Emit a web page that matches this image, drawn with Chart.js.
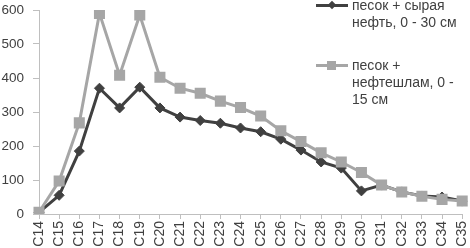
<!DOCTYPE html>
<html><head><meta charset="utf-8">
<script src="https://cdn.jsdelivr.net/npm/chart.js@4"></script>
<style>
html,body{margin:0;padding:0;background:#fff;}
#wrap{position:relative;width:470px;height:248px;overflow:hidden;}
#c{position:absolute;left:0;top:0;}
.leg{position:absolute;font-family:"Liberation Sans",Arial,sans-serif;font-size:14px;color:#404040;line-height:17px;white-space:nowrap;}
.ln{position:absolute;height:3px;width:32px;}
.mk{position:absolute;}
</style></head>
<body>
<div id="wrap">
<canvas id="c" width="470" height="248"></canvas>
<div class="ln" style="left:316px;top:4px;background:#404040"></div>
<div class="mk" style="left:329px;top:2px;width:6px;height:6px;background:#404040;transform:rotate(45deg)"></div>
<div class="leg" style="left:352px;top:-3px">песок + сырая<br>нефть, 0 - 30 см</div>
<div class="ln" style="left:316px;top:64px;background:#a6a6a6"></div>
<div class="mk" style="left:327px;top:61px;width:9px;height:9px;background:#a6a6a6"></div>
<div class="leg" style="left:352px;top:57px">песок +<br>нефтешлам, 0 -<br>15 см</div>
</div>
<script>
const categories = ['C14','C15','C16','C17','C18','C19','C20','C21','C22','C23','C24','C25','C26','C27','C28','C29','C30','C31','C32','C33','C34','C35'];
const crudeOil = [5,55,185,370,312,373,312,285,275,267,253,242,220,188,153,135,68,85,65,53,50,38];
const oilSludge = [5,97,268,590,408,585,402,370,355,332,313,288,245,213,180,153,122,85,65,52,43,38];
const yTicks = [0,100,200,300,400,500,600];
const seriesNames = ['песок + сырая нефть, 0 - 30 см','песок + нефтешлам, 0 - 15 см'];

const tickColor = '#404040';
const axisColor = '#bfbfbf';
new Chart(document.getElementById('c'), {
  type: 'line',
  data: {
    labels: categories,
    datasets: [
      {label: seriesNames[0], data: crudeOil, borderColor:'#404040', backgroundColor:'#404040', borderWidth:3, pointStyle:'rectRot', pointRadius:5, pointBorderWidth:1, tension:0, order:2},
      {label: seriesNames[1], data: oilSludge, borderColor:'#a6a6a6', backgroundColor:'#a6a6a6', borderWidth:3, pointStyle:'rect', pointRadius:7.8, pointBorderWidth:0, tension:0, order:1}
    ]
  },
  options: {
    responsive:false, animation:false,
    layout:{padding:{top:10,right:5,left:0,bottom:0}},
    plugins:{legend:{display:false}, tooltip:{enabled:false}},
    scales:{
      x:{
        offset:false,
        grid:{drawOnChartArea:false, drawTicks:true, tickLength:5, color:axisColor},
        border:{color:axisColor},
        ticks:{autoSkip:false, maxRotation:90, minRotation:90, padding:2, color:tickColor, font:{family:'"Liberation Sans", Arial, sans-serif', size:14}},
        afterFit:s=>{s.height=34; s.paddingLeft=0; s.paddingRight=0;}
      },
      y:{
        min:0, max:600,
        afterBuildTicks:s=>{s.ticks = yTicks.map(v=>({value:v}));},
        grid:{drawOnChartArea:false, drawTicks:true, tickLength:6, color:axisColor},
        border:{color:axisColor},
        ticks:{padding:9, color:tickColor, font:{family:'"Liberation Sans", Arial, sans-serif', size:13.5}},
        afterFit:s=>{s.width=39; s.paddingTop=0; s.paddingBottom=0;}
      }
    }
  }
});
</script>
</body></html>
